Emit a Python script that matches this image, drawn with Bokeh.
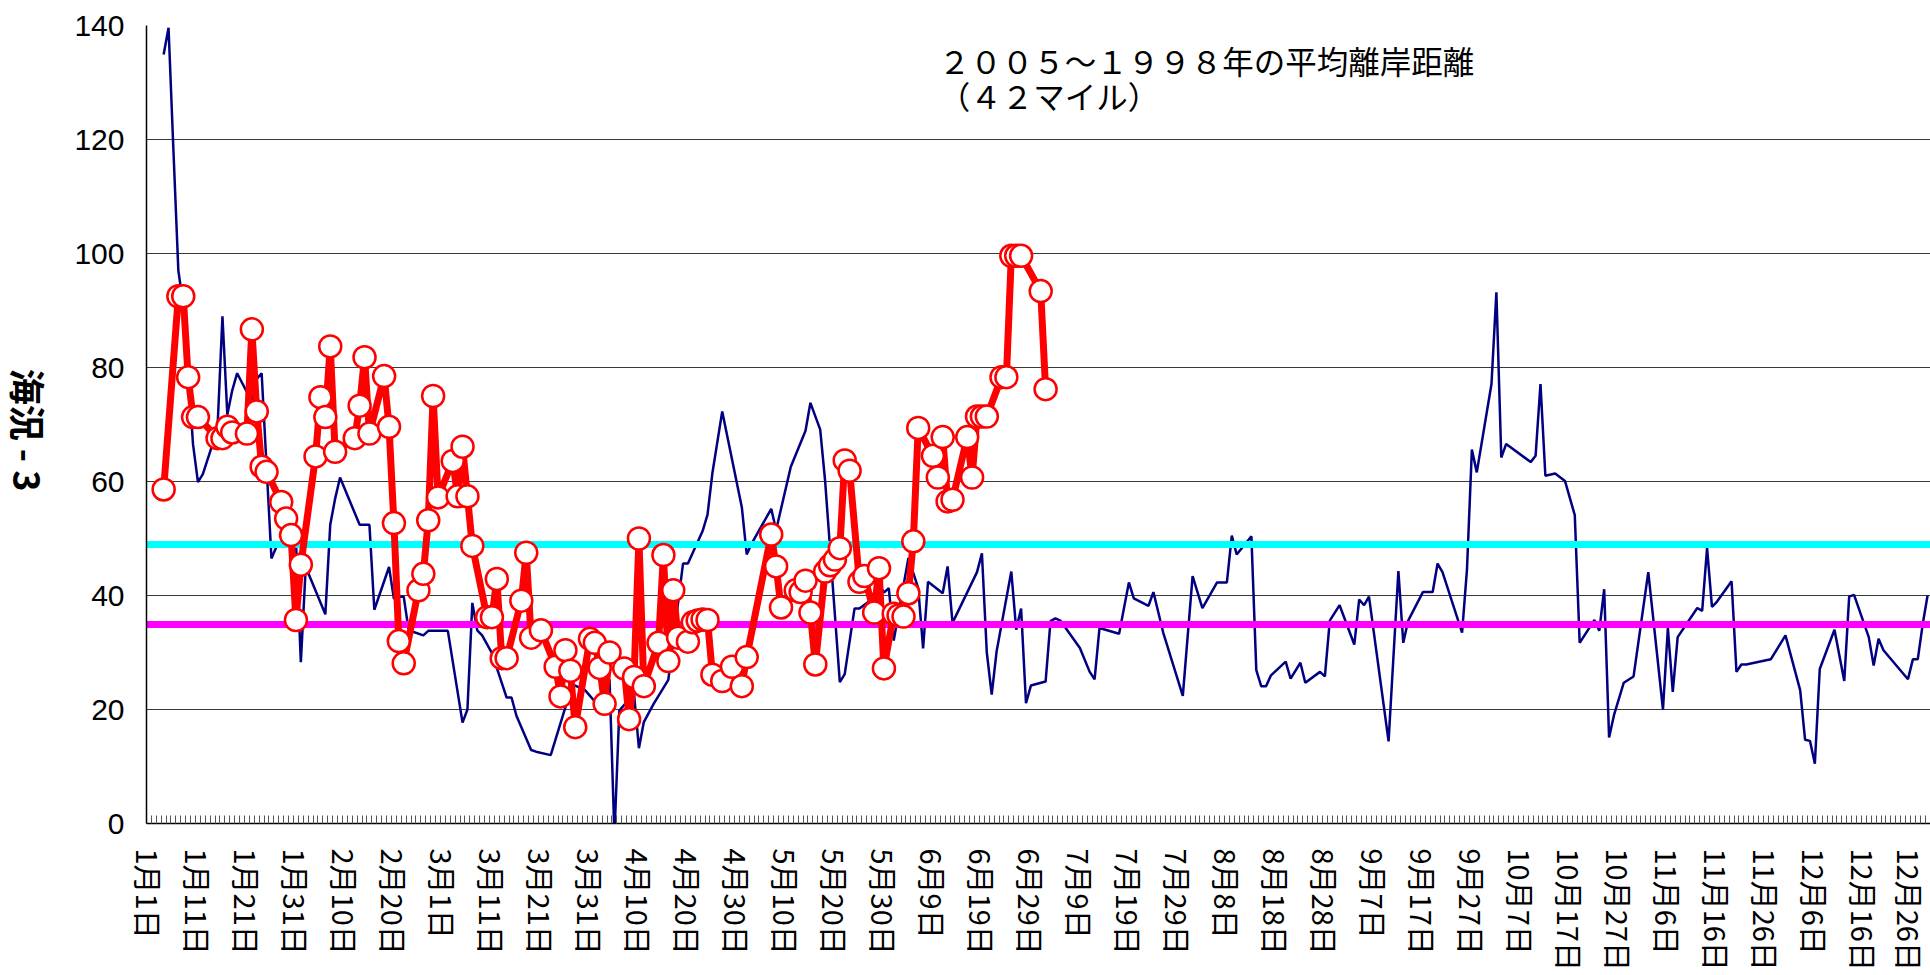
import math
from bokeh.plotting import figure
from bokeh.layouts import row
from bokeh.models import Range1d, FixedTicker, Label
from bokeh.core.properties import value
from bokeh.embed import file_html
from bokeh.resources import INLINE

# ---------------- data (day of year, leap year) ----------------
tick_labels = ["1月1日", "1月11日", "1月21日", "1月31日", "2月10日", "2月20日", "3月1日",
               "3月11日", "3月21日", "3月31日", "4月10日", "4月20日", "4月30日", "5月10日",
               "5月20日", "5月30日", "6月9日", "6月19日", "6月29日", "7月9日", "7月19日",
               "7月29日", "8月8日", "8月18日", "8月28日", "9月7日", "9月17日", "9月27日",
               "10月7日", "10月17日", "10月27日", "11月6日", "11月16日", "11月26日",
               "12月6日", "12月16日", "12月26日"]
tick_days = [1 + 10 * i for i in range(len(tick_labels))]

navy_days = [4, 5, 6, 7, 8, 9, 10, 11, 12, 14, 15, 16, 17, 18, 19, 22, 23, 24, 26, 27,
             31, 32, 33, 37, 38, 39, 40, 44, 46, 47, 50, 51, 52, 53, 54, 57, 58, 62, 65, 66,
             67, 68, 69, 71, 74, 75, 76, 79, 80, 83, 86, 87, 90, 92, 94, 95, 96, 97, 100, 101,
             102, 104, 107, 110, 111, 114, 115, 116, 118, 122, 123, 124, 128, 129, 132, 135, 136, 138, 139, 142,
             143, 145, 146, 148, 150, 151, 152, 153, 156, 158, 159, 160, 163, 164, 165, 170, 171, 172, 173, 174,
             177, 178, 179, 180, 181, 184, 185, 186, 187, 191, 193, 194, 195, 199, 201, 202, 205, 206, 208, 212,
             214, 216, 219, 221, 222, 223, 226, 227, 228, 229, 230, 233, 234, 236, 237, 240, 241, 242, 244, 247,
             248, 249, 250, 254, 256, 257, 258, 261, 263, 264, 265, 269, 270, 271, 272, 275, 276, 277, 278, 283,
             284, 285, 286, 288, 290, 292, 293, 296, 297, 298, 299, 300, 302, 304, 307, 310, 311, 312, 313, 317,
             318, 319, 320, 321, 324, 325, 326, 327, 332, 335, 338, 339, 340, 341, 342, 345, 347, 348, 349, 352,
             353, 354, 355, 360, 361, 362, 363, 364]
navy_vals = [134.9, 139.6, 118.0, 97.0, 91.0, 79.0, 66.5, 59.9, 61.3, 66.6, 69.5, 89.0, 71.7, 76.0, 79.0, 74.0, 78.0, 79.0, 46.5, 48.5,
             49.5, 28.3, 45.0, 36.7, 52.4, 57.0, 60.7, 52.4, 52.4, 37.5, 45.0, 39.4, 39.8, 39.8, 33.9, 33.0, 33.8, 33.8, 17.7, 20.0,
             38.7, 33.9, 33.0, 29.9, 22.1, 22.1, 18.9, 12.9, 12.6, 12.0, 20.4, 24.6, 23.4, 21.4, 23.4, 25.3, -2.1, 19.8, 22.8, 13.2,
             17.8, 21.0, 25.2, 45.6, 45.6, 51.3, 54.2, 61.5, 72.3, 55.5, 47.2, 49.1, 55.2, 51.5, 62.6, 68.9, 73.8, 69.1, 60.1, 24.8,
             26.2, 37.7, 37.7, 39.0, 42.0, 40.5, 41.3, 32.1, 46.6, 41.3, 30.7, 42.4, 40.4, 45.1, 35.2, 44.1, 47.4, 30.0, 22.6, 30.2,
             44.2, 34.0, 37.7, 21.1, 24.2, 24.9, 35.5, 36.0, 35.6, 30.8, 26.6, 25.3, 34.3, 33.3, 42.3, 39.5, 38.2, 40.6, 33.5, 22.4,
             43.4, 37.8, 42.3, 42.3, 50.5, 47.2, 50.4, 26.9, 24.1, 24.1, 26.0, 28.4, 25.4, 28.2, 24.7, 26.6, 25.8, 35.6, 38.3, 31.4,
             39.3, 38.3, 39.8, 14.4, 44.3, 31.7, 35.6, 40.6, 40.6, 45.6, 44.1, 33.5, 44.6, 65.6, 61.6, 77.1, 93.2, 64.2, 66.6, 63.4,
             64.5, 77.1, 61.0, 61.4, 60.1, 54.1, 31.7, 35.7, 33.8, 41.1, 15.1, 19.0, 24.7, 25.8, 44.1, 20.0, 34.3, 23.1, 32.7, 37.8,
             37.3, 48.3, 38.0, 38.9, 42.5, 26.6, 27.9, 27.9, 28.8, 33.0, 23.4, 14.7, 14.5, 10.5, 27.1, 34.0, 25.0, 39.8, 40.1, 32.7,
             27.7, 32.4, 30.4, 25.3, 28.8, 28.8, 34.9, 40.0]

red_days = [4, 7, 8, 9, 10, 11, 15, 16, 17, 18, 21, 22, 23, 24, 25, 28, 29, 30, 31, 32,
            35, 36, 37, 38, 39, 43, 44, 45, 46, 49, 50, 51, 52, 53, 56, 57, 58, 59, 60, 63,
            64, 65, 66, 67, 70, 71, 72, 73, 74, 77, 78, 79, 81, 84, 85, 86, 87, 88, 91, 92,
            93, 94, 95, 98, 99, 100, 101, 102, 105, 106, 107, 108, 109, 111, 112, 113, 114, 115, 116, 118,
            120, 122, 123, 128, 129, 130, 133, 134, 135, 136, 137, 139, 140, 141, 142, 143, 144, 146, 147, 149,
            150, 151, 153, 154, 155, 156, 157, 158, 161, 162, 163, 164, 165, 168, 169, 170, 171, 172, 175, 176,
            177, 178, 179, 183, 184]
red_vals = [58.6, 92.5, 92.5, 78.3, 71.3, 71.3, 67.6, 67.6, 69.6, 68.6, 68.4, 86.7, 72.3, 62.6, 61.7, 56.4, 53.5, 50.6, 35.7, 45.4,
            64.4, 74.8, 71.3, 83.7, 65.2, 67.6, 73.3, 81.8, 68.4, 78.5, 69.6, 52.7, 32.0, 28.1, 40.9, 43.8, 53.2, 75.0, 57.2, 63.6,
            57.4, 66.1, 57.4, 48.7, 36.2, 36.2, 42.9, 29.0, 29.0, 39.1, 47.5, 32.6, 33.9, 27.5, 22.3, 30.4, 26.8, 16.9, 32.4, 31.7,
            27.3, 21.0, 30.0, 27.2, 18.3, 25.7, 50.0, 24.1, 31.7, 47.1, 28.5, 40.9, 32.6, 31.9, 35.3, 35.6, 35.8, 35.7, 26.1, 25.0,
            27.5, 24.1, 29.2, 50.7, 45.1, 37.9, 40.9, 40.6, 42.6, 37.0, 27.9, 44.2, 45.3, 46.3, 48.3, 63.7, 61.9, 42.4, 43.4, 37.0,
            44.8, 27.2, 36.8, 36.5, 36.3, 40.4, 49.5, 69.4, 64.5, 60.7, 67.8, 56.5, 56.8, 67.8, 60.7, 71.4, 71.4, 71.4, 78.3, 78.3,
            99.6, 99.6, 99.6, 93.4, 76.2]

ref_levels = [49, 35]
ref_colors = ["#00FFFF", "#FF00FF"]

title_lines = ["２００５～１９９８年の平均離岸距離", "（４２マイル）"]
y_title = "海況 - 3"

# ---------------- left strip holding the y-axis title (reads top to bottom) ----------------
lp = figure(width=60, height=975, output_backend="svg", toolbar_location=None,
            x_range=Range1d(0, 1), y_range=Range1d(0, 1),
            x_axis_location=None, y_axis_location=None, min_border=0)
lp.grid.visible = False
lp.outline_line_color = None
lp.background_fill_color = "white"
lp.border_fill_color = "white"
lp.text(x=[0.48], y=[0.493], text=[y_title], angle=-math.pi / 2, text_align="center",
        text_baseline="middle", text_font=value("Noto Sans CJK JP"), text_font_size=value("36px"),
        text_font_style="bold", text_color="black")

# ---------------- main figure ----------------
p = figure(width=1870, height=975, output_backend="svg", toolbar_location=None,
           x_range=Range1d(0.5, 364.6), y_range=Range1d(0, 140),
           min_border_left=86, min_border_right=0, min_border_top=25, min_border_bottom=152)
p.background_fill_color = "white"
p.border_fill_color = "white"
p.outline_line_color = None

p.xgrid.grid_line_color = None
p.ygrid.ticker = FixedTicker(ticks=list(range(0, 141, 20)))
p.ygrid.grid_line_color = "#3a3a3a"
p.ygrid.grid_line_width = 1.2

# y axis
ya = p.yaxis[0]
ya.ticker = FixedTicker(ticks=list(range(0, 141, 20)))
ya.major_tick_out = 0
ya.major_tick_in = 0
ya.minor_tick_out = 0
ya.minor_tick_in = 0
ya.axis_line_color = "black"
ya.axis_line_width = 1.5
ya.major_label_text_font = "Liberation Sans"
ya.major_label_text_font_size = "30px"
ya.major_label_text_color = "black"
ya.major_label_standoff = 22

# x axis
xa = p.xaxis[0]
xa.ticker = FixedTicker(ticks=tick_days, minor_ticks=[d + 0.5 for d in range(0, 367)])
xa.major_label_overrides = {d: t for d, t in zip(tick_days, tick_labels)}
xa.major_label_orientation = "vertical"
xa.major_tick_in = 0
xa.major_tick_out = 0
xa.minor_tick_in = 8
xa.minor_tick_out = 0
xa.minor_tick_line_color = "#555555"
xa.minor_tick_line_width = 1
xa.axis_line_color = "black"
xa.axis_line_width = 1.5
xa.major_label_text_font = "Noto Sans CJK JP"
xa.major_label_text_font_size = "29px"
xa.major_label_text_color = "black"
xa.major_label_standoff = 25

# series
p.line(navy_days, navy_vals, line_color="#000080", line_width=2.5)
p.hspan(y=ref_levels, line_color=ref_colors, line_width=7)
p.line(red_days, red_vals, line_color="#FF0000", line_width=7, line_join="round")
p.scatter(red_days, red_vals, marker="circle", size=22, fill_color="white",
          line_color="#FF0000", line_width=2.5)

# chart note
p.add_layout(Label(x=162.2, y=134.0, text=title_lines[0], text_align="left", text_baseline="middle",
                   text_font="Noto Sans CJK JP", text_font_size="31.5px", text_color="black"))
p.add_layout(Label(x=162.2, y=127.8, text=title_lines[1], text_align="left", text_baseline="middle",
                   text_font="Noto Sans CJK JP", text_font_size="31.5px", text_color="black"))

layout = row(lp, p, spacing=0)
open("out.html", "w").write(file_html(layout, INLINE))
